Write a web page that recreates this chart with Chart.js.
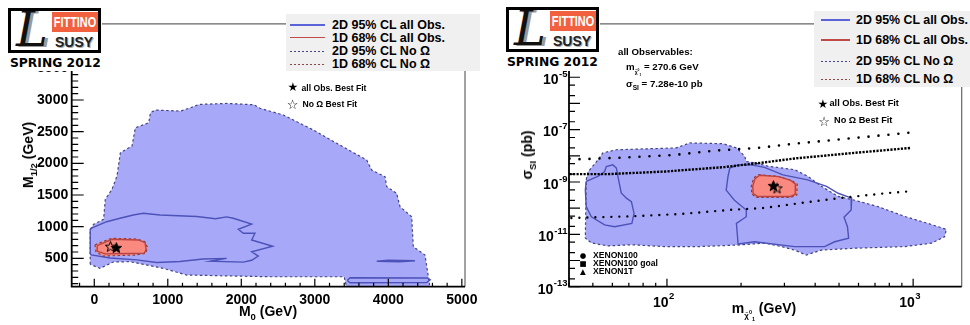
<!DOCTYPE html>
<html>
<head>
<meta charset="utf-8">
<script src="https://cdn.jsdelivr.net/npm/chart.js@4.4.1/dist/chart.umd.min.js"></script>
<style>
  html, body { margin: 0; padding: 0; background: #fff; }
  body { position: relative; width: 970px; height: 325px; overflow: hidden;
         font-family: "Liberation Sans", Arial, Helvetica, sans-serif; font-weight: bold; color: #000; }
  .panel { position: absolute; top: 0; width: 485px; height: 325px; }
  .txt { position: absolute; white-space: nowrap; line-height: 1; transform: translateY(-50%); }
  .ctr { transform: translate(-50%, -50%); }
  .vert { transform: translate(-50%, -50%) rotate(-90deg); }
  .cover { position: absolute; background: #fff; }
  .logo { position: absolute; box-sizing: border-box; width: 93px; height: 45px;
          border: 3px solid #000; background: #fff; overflow: hidden; }
  .logo .bigL { position: absolute; left: 5px; top: -10px; font: italic 48px "DejaVu Serif", serif;
                color: #111; text-shadow: 3px 1px 0 #999; }
  .logo .fit { position: absolute; left: 41px; top: 1px; width: 46px; height: 20px; background: #f2613f; overflow: hidden; }
  .logo .fit span { position: absolute; left: 50%; top: 3px; color: #fff; font: bold 14px "Liberation Sans", sans-serif;
                    line-height: 1; transform: translateX(-50%) scaleX(0.78); }
  .logo .susy { position: absolute; left: 44px; top: 23px; font: bold 14px "Liberation Sans", sans-serif;
                color: #222; text-shadow: 1px 1px 0 #aaa; }
  .spring { position: absolute; font: bold 12.3px "DejaVu Sans", sans-serif; line-height: 1; }
  .legend { position: absolute; background: #f0f0f0; }
  .ls { position: absolute; height: 1.5px; }
  .ld { position: absolute; height: 1px; }
  sub, sup { font-size: 68%; line-height: 0; }
</style>
</head>
<body>
<div class="panel" style="left:0"><canvas id="leftChart" width="485" height="325"></canvas></div>
<div class="panel" style="left:485px"><canvas id="rightChart" width="485" height="325"></canvas></div>

<!-- logos -->
<div class="cover" style="left:0;top:0;width:102px;height:71px"></div>
<div class="logo" style="left:8px;top:8px"><span class="bigL">L</span><div class="fit"><span>FITTINO</span></div><span class="susy">SUSY</span></div>
<div class="spring" style="left:10px;top:57px">SPRING 2012</div>
<div class="cover" style="left:487px;top:0;width:113px;height:71px"></div>
<div class="logo" style="left:506px;top:7px"><span class="bigL">L</span><div class="fit"><span>FITTINO</span></div><span class="susy">SUSY</span></div>
<div class="spring" style="left:507px;top:56px">SPRING 2012</div>

<!-- left legend -->
<div class="legend" style="left:286px;top:14px;width:194px;height:57px"></div>
<div class="ls" style="left:290px;top:24px;width:35px;background:#5a64d8"></div>
<div class="ls" style="left:290px;top:36.5px;width:35px;background:#c04a4a"></div>
<div class="ld" style="left:290px;top:50.5px;width:35px;background:repeating-linear-gradient(90deg,#45458f 0 2px,transparent 2px 4px)"></div>
<div class="ld" style="left:290px;top:63.5px;width:35px;background:repeating-linear-gradient(90deg,#8f4545 0 2px,transparent 2px 4px)"></div>
<div class="txt" style="left:332px;top:25px;font-size:12.5px">2D 95% CL all Obs.</div>
<div class="txt" style="left:332px;top:37.5px;font-size:12.5px">1D 68% CL all Obs.</div>
<div class="txt" style="left:332px;top:51px;font-size:12.5px">2D 95% CL No Ω</div>
<div class="txt" style="left:332px;top:64px;font-size:12.5px">1D 68% CL No Ω</div>

<!-- right legend -->
<div class="legend" style="left:814px;top:11px;width:156px;height:76px"></div>
<div class="ls" style="left:821px;top:19px;width:29px;background:#5a64d8"></div>
<div class="ls" style="left:821px;top:39px;width:29px;background:#c04a4a"></div>
<div class="ld" style="left:821px;top:60.5px;width:29px;background:repeating-linear-gradient(90deg,#45458f 0 2px,transparent 2px 4px)"></div>
<div class="ld" style="left:821px;top:78.5px;width:29px;background:repeating-linear-gradient(90deg,#8f4545 0 2px,transparent 2px 4px)"></div>
<div class="txt" style="left:856px;top:20px;font-size:12.4px">2D 95% CL all Obs.</div>
<div class="txt" style="left:856px;top:40px;font-size:12.4px">1D 68% CL all Obs.</div>
<div class="txt" style="left:856px;top:61px;font-size:12.4px">2D 95% CL No Ω</div>
<div class="txt" style="left:856px;top:79px;font-size:12.4px">1D 68% CL No Ω</div>

<!-- best fit notes -->
<div class="txt ctr" style="left:293px;top:87px;font:12px 'DejaVu Sans'">★</div>
<div class="txt" style="left:301.5px;top:87.5px;font-size:8.6px">all Obs. Best Fit</div>
<div class="txt ctr" style="left:292.5px;top:104px;font:13px 'DejaVu Sans'">☆</div>
<div class="txt" style="left:302.5px;top:104px;font-size:8.6px">No Ω Best Fit</div>

<div class="txt ctr" style="left:823px;top:104px;font:12px 'DejaVu Sans'">★</div>
<div class="txt" style="left:829.5px;top:104px;font-size:9.2px">all Obs. Best Fit</div>
<div class="txt ctr" style="left:824px;top:120.5px;font:13px 'DejaVu Sans'">☆</div>
<div class="txt" style="left:834px;top:120.5px;font-size:9.2px">No Ω Best Fit</div>

<div class="txt" style="left:618px;top:51.5px;font-size:9.7px">all Observables:</div>
<div class="txt" style="left:626px;top:66.5px;font-size:9.7px">m<span style="font-size:5px;position:relative;top:4px">χ̃<sup>0</sup><sub>1</sub></span> = 270.6 GeV</div>
<div class="txt" style="left:626px;top:84px;font-size:9.7px">σ<sub>SI</sub> = 7.28e-10 pb</div>

<!-- XENON key -->
<div class="txt ctr" style="left:583px;top:254.5px;font:7.5px 'DejaVu Sans'">●</div>
<div class="txt ctr" style="left:583px;top:262.5px;font:7.5px 'DejaVu Sans'">■</div>
<div class="txt ctr" style="left:583px;top:270.5px;font:7.5px 'DejaVu Sans'">▲</div>
<div class="txt" style="left:593px;top:254.5px;font-size:8.6px">XENON100</div>
<div class="txt" style="left:593px;top:262.5px;font-size:8.6px">XENON100 goal</div>
<div class="txt" style="left:593px;top:270.5px;font-size:8.6px">XENON1T</div>

<!-- axis titles -->
<div class="txt ctr" style="left:268px;top:311px;font-size:14px">M<sub>0</sub> (GeV)</div>
<div class="txt vert" style="left:28px;top:155px;font-size:14px">M<sub>1/2</sub> (GeV)</div>
<div class="txt ctr" style="left:764px;top:308px;font-size:14px">m<span style="font-size:8px;position:relative;top:5px">χ̃<sup>0</sup><sub>1</sub></span> (GeV)</div>
<div class="txt vert" style="left:527px;top:155px;font-size:14px">σ<sub>SI</sub> (pb)</div>

<script>
// ---------- left panel: CMSSM plane (M0, M1/2) in GeV ----------
const leftXTicks = [0, 1000, 2000, 3000, 4000, 5000];
const leftYTicks = [500, 1000, 1500, 2000, 2500, 3000, 3500];

// 2D 95% CL No Omega (filled, dashed edge)
const noOmega95M0  = [-55, -55, -9, 127, 150, 241, 309, 355, 514, 559, 741, 764, 832, 1173, 1309, 1423, 1809, 2173, 2254, 2572, 2980, 3298, 3706, 3774, 3955, 3978, 4114, 4159, 4318, 4340, 4499, 4544, 4560, 4560, 3440, 3400, 2390, 1257, 939, 486, 259, 78];
const noOmega95M12 = [405, 958, 1037, 1115, 1431, 1589, 1799, 2167, 2273, 2562, 2641, 2799, 2841, 2825, 2878, 2930, 2946, 2925, 2869, 2763, 2526, 2316, 2052, 1894, 1789, 1631, 1526, 1315, 1157, 683, 552, 209, 105, 0, 0, 209, 209, 236, 342, 447, 442, 342];

// 2D 95% CL all Obs. (solid line contours)
const allObs95M0  = [-55, -55, -14, 169, 350, 531, 667, 894, 1393, 1650, 1800, 1891, 2141, 1959, 2027, 2186, 2141, 2427, 2141, 2231, 2140, 2030, 1580, 1800, 1480, 1166, 849, 577, 215, -40];
const allObs95M12 = [570, 958, 990, 1078, 1132, 1184, 1211, 1184, 1160, 1125, 1155, 1132, 1040, 958, 895, 895, 789, 690, 604, 536, 470, 440, 455, 500, 490, 450, 435, 475, 505, 555];
const allObs95LensM0  = [3842, 4000, 4363, 4150];
const allObs95LensM12 = [455, 472, 462, 445];
const allObs95LowM0  = [3440, 3480, 4530, 4570, 4520, 3480];
const allObs95LowM12 = [150, 194, 190, 160, 118, 115];

// 1D 68% CL No Omega (filled) and all Obs. (solid line)
const noOmega68M0  = [10, 60, 237, 577, 690, 721, 703, 554, 122, 23];
const noOmega68M12 = [710, 740, 816, 805, 762, 683, 579, 552, 536, 604];
const allObs68M0  = [40, 240, 600, 690, 705, 680, 150, 50];
const allObs68M12 = [700, 800, 790, 750, 640, 580, 570, 610];

const leftBestAll = [300, 670];
const leftBestNoOmega = [220, 690];

// ---------- right panel: (m_chi, sigma_SI) in GeV, pb ----------
const rightXPowers = [2, 3];
const rightYPowers = [-13, -11, -9, -7, -5];

const noOmegaMass  = [47.0, 47.8, 52.4, 54.9, 62.3, 109, 124, 169, 192, 207, 210, 227, 258, 330, 373, 424, 496, 580, 720, 925, 1151, 1364, 1342, 1188, 925, 580, 424, 368, 330, 292, 249, 194, 134, 98, 72, 57.6, 49.3, 46.6];
const noOmegaSigma = [1.23e-9, 2.45e-9, 6.9e-9, 1.29e-8, 1.7e-8, 2.0e-8, 3.1e-8, 2.9e-8, 2.0e-8, 9.5e-9, 6.0e-9, 5.4e-9, 4.0e-9, 2.95e-9, 1.66e-9, 6.8e-10, 2.8e-10, 2.0e-10, 1.15e-10, 4.8e-11, 2.6e-11, 1.55e-11, 8.1e-12, 4.6e-12, 3.4e-12, 2.95e-12, 2.5e-12, 1.62e-12, 2.5e-12, 3.4e-12, 4.6e-12, 3.9e-12, 3.4e-12, 3.4e-12, 4.0e-12, 3.6e-12, 4.7e-12, 7.2e-12];

const allObsLowMass  = [47.0, 52.4, 55.8, 56.7, 60.3, 62.3, 63.2, 65.2, 68.4, 71.7, 73.5, 72, 61.3, 55.8, 49.3, 47.0, 46.6];
const allObsLowSigma = [1.05e-9, 1.62e-9, 2.5e-9, 3.9e-9, 4.5e-9, 3.4e-9, 1.62e-9, 3.8e-10, 2.4e-10, 1.78e-10, 6.3e-11, 2.6e-11, 1.95e-11, 2.3e-11, 4.7e-11, 1.15e-10, 4.9e-10];
const allObsMidMass  = [194.5, 220, 249, 296, 373, 445, 496, 563, 560, 524, 541, 547, 480, 437, 330, 227, 194.5, 191.5, 210, 210, 188, 174, 177, 180];
const allObsMidSigma = [4.5e-9, 4.5e-9, 3.6e-9, 1.86e-9, 1.2e-9, 6.8e-10, 3.7e-10, 2.4e-10, 8.5e-11, 4.5e-11, 1.95e-11, 7.1e-12, 5.2e-12, 3.4e-12, 3.4e-12, 5.2e-12, 4.3e-12, 2.6e-11, 4.7e-11, 8.5e-11, 2.0e-10, 4.9e-10, 1.62e-9, 3.4e-9];

const red68Mass  = [235, 280, 320, 338, 337, 320, 230, 221, 220, 225];
const red68Sigma = [1.9e-9, 1.66e-9, 1.17e-9, 8.3e-10, 3.2e-10, 2.6e-10, 2.6e-10, 3.5e-10, 6.8e-10, 1.41e-9];
const line68Mass  = [238, 285, 318, 333, 332, 318, 233, 224, 223, 228];
const line68Sigma = [1.8e-9, 1.6e-9, 1.15e-9, 8.3e-10, 3.4e-10, 2.8e-10, 2.8e-10, 3.6e-10, 6.8e-10, 1.35e-9];

const xe100Mass  = [40.2, 44.9, 57.6, 78.7, 107.5, 156, 234, 330, 512, 741, 1000];
const xe100Sigma = [7.8e-9, 7.4e-9, 8.1e-9, 9.2e-9, 1.08e-8, 1.57e-8, 2.0e-8, 2.9e-8, 4.3e-8, 6.0e-8, 7.9e-8];
const xeGoalMass  = [40.2, 57.6, 97.9, 171, 249, 330, 580, 980];
const xeGoalSigma = [2.0e-9, 2.0e-9, 2.5e-9, 3.7e-9, 5.6e-9, 7.9e-9, 1.3e-8, 2.0e-8];
const xe1TMass  = [40.9, 52.4, 71.7, 114, 183, 249, 310, 496, 792, 1000];
const xe1TSigma = [4.2e-11, 4.5e-11, 4.9e-11, 6.0e-11, 8.7e-11, 1.02e-10, 1.35e-10, 2.4e-10, 3.8e-10, 4.5e-10];

const rightBestAll = [270.6, 7.28e-10];
const rightBestNoOmega = [280, 5.9e-10];

// ---------- styles ----------
const BLUE_FILL = "#a7a9f8";
const BLUE_DASH = "#44447e";
const BLUE_LINE = "#4d52b8";
const RED_FILL = "#fa8a80";
const RED_DASH = "#8a3a3a";
const RED_LINE = "#b84444";

Chart.defaults.font.family = "'Liberation Sans', Arial, sans-serif";
Chart.defaults.color = "#000";

function pts(xs, ys) {
  return xs.map((x, i) => ({ x, y: ys[i] }));
}

function closed(xs, ys) {
  const p = pts(xs, ys);
  p.push(p[0]);
  return p;
}

function makeStar(size, filled) {
  const c = document.createElement("canvas");
  c.width = size;
  c.height = size;
  const g = c.getContext("2d");
  const r = size / 2 - 1, ri = r * 0.42, cx = size / 2, cy = size / 2 + 0.6;
  g.beginPath();
  for (let i = 0; i < 10; i++) {
    const rad = i % 2 ? ri : r;
    const a = -Math.PI / 2 + i * Math.PI / 5;
    g.lineTo(cx + rad * Math.cos(a), cy + rad * Math.sin(a));
  }
  g.closePath();
  if (filled) {
    g.fillStyle = "#000";
    g.fill();
  }
  g.strokeStyle = "#000";
  g.lineWidth = 1;
  g.stroke();
  return c;
}

const fullStar = makeStar(13, true);
const openStar = makeStar(13, false);

function region(data, fillColor, edgeColor, order) {
  return {
    data, order, fill: "shape", backgroundColor: fillColor,
    borderColor: edgeColor, borderWidth: 1.2, borderDash: [2.5, 2.5]
  };
}

function contour(data, color, order) {
  return { data, order, fill: false, borderColor: color, borderWidth: 1.4 };
}

function marker(xy, img, order) {
  return { data: [{ x: xy[0], y: xy[1] }], order, showLine: false, pointStyle: img, pointRadius: 6 };
}

function dotted(data, dash, width, cap) {
  return { data, order: 4, fill: false, borderColor: "#000", borderWidth: width, borderDash: dash, borderCapStyle: cap };
}

// ticks and frame drawn ROOT-like, from the chart's own scales
function rootAxes(cfg) {
  return {
    id: "rootAxes",
    afterDraw(chart) {
      const { ctx, chartArea: a } = chart;
      const xs = chart.scales.x, ys = chart.scales.y;
      ctx.save();
      ctx.strokeStyle = "#666";
      ctx.lineWidth = 1.2;
      ctx.beginPath();
      ctx.moveTo(a.left, a.top + 0.5);
      ctx.lineTo(a.right, a.top + 0.5);
      ctx.lineTo(a.right, a.bottom);
      ctx.stroke();

      ctx.strokeStyle = "#000";
      ctx.lineWidth = 1.8;
      ctx.beginPath();
      ctx.moveTo(a.left, a.top);
      ctx.lineTo(a.left, a.bottom);
      ctx.lineTo(a.right, a.bottom);
      ctx.stroke();

      ctx.lineWidth = 1.2;
      ctx.beginPath();
      cfg.xTicks.forEach(t => {
        const p = xs.getPixelForValue(t[0]);
        if (p < a.left || p > a.right) return;
        ctx.moveTo(p, a.bottom);
        ctx.lineTo(p, a.bottom - t[1]);
      });
      cfg.yTicks.forEach(t => {
        const p = ys.getPixelForValue(t[0]);
        if (p < a.top || p > a.bottom) return;
        ctx.moveTo(a.left, p);
        ctx.lineTo(a.left + t[1], p);
      });
      ctx.stroke();

      if (cfg.xPow) {
        cfg.xPow.forEach(e => drawPow(ctx, xs.getPixelForValue(Math.pow(10, e)) - 3.5, a.bottom + 16, e, "center"));
        cfg.yPow.forEach(e => drawPow(ctx, a.left - 2, ys.getPixelForValue(Math.pow(10, e)) + 3, e, "right"));
      }
      ctx.restore();
    }
  };
}

function drawPow(ctx, x, y, e, align) {
  const big = "bold 14px 'Liberation Sans'";
  const small = "bold 9.5px 'Liberation Sans'";
  const exp = String(e);
  ctx.font = big;
  const w1 = ctx.measureText("10").width;
  ctx.font = small;
  const w2 = ctx.measureText(exp).width;
  const x0 = align === "right" ? x - w1 - w2 : x - (w1 + w2) / 2;
  ctx.fillStyle = "#000";
  ctx.textAlign = "left";
  ctx.textBaseline = "middle";
  ctx.font = big;
  ctx.fillText("10", x0, y);
  ctx.font = small;
  ctx.fillText(exp, x0 + w1 + 0.5, y - 6);
}

const tickFont = { family: "'Liberation Sans'", size: 14, weight: "bold" };
const plainNumber = v => String(v);
const baseOptions = {
  responsive: false,
  animation: false,
  events: [],
  elements: { point: { radius: 0 }, line: { tension: 0 } },
  plugins: { legend: { display: false }, tooltip: { enabled: false } }
};

// left ticks: minor every 200 / 100, major every 1000 / 500
const leftXTickMarks = [];
for (let v = -200; v <= 5000; v += 200) leftXTickMarks.push([v, v % 1000 === 0 ? 8 : 4]);
const leftYTickMarks = [];
for (let v = 100; v <= 4200; v += 100) leftYTickMarks.push([v, v % 500 === 0 ? 12 : 6.5]);

new Chart(document.getElementById("leftChart"), {
  type: "line",
  data: {
    datasets: [
      region(closed(noOmega95M0, noOmega95M12), BLUE_FILL, BLUE_DASH, 10),
      contour(closed(allObs95M0, allObs95M12), BLUE_LINE, 8),
      contour(closed(allObs95LensM0, allObs95LensM12), BLUE_LINE, 8),
      contour(closed(allObs95LowM0, allObs95LowM12), BLUE_LINE, 8),
      region(closed(noOmega68M0, noOmega68M12), RED_FILL, RED_DASH, 6),
      contour(closed(allObs68M0, allObs68M12), RED_LINE, 5),
      marker(leftBestNoOmega, openStar, 2),
      marker(leftBestAll, fullStar, 1)
    ]
  },
  options: {
    ...baseOptions,
    layout: { padding: { left: 0, right: 20, top: 23.3, bottom: 0 } },
    scales: {
      x: {
        type: "linear", min: -307, max: 5043,
        grid: { display: false, drawTicks: false }, border: { display: false },
        ticks: { font: tickFont, color: "#000", padding: 5, autoSkip: false, maxRotation: 0, callback: plainNumber },
        afterBuildTicks: s => { s.ticks = leftXTicks.map(v => ({ value: v })); },
        afterFit: s => { s.height = 38.3; }
      },
      y: {
        type: "linear", min: 52, max: 4211,
        grid: { display: false, drawTicks: false }, border: { display: false },
        ticks: { font: tickFont, color: "#000", padding: 3.5, autoSkip: false, callback: plainNumber },
        afterBuildTicks: s => { s.ticks = leftYTicks.map(v => ({ value: v })); },
        afterFit: s => { s.width = 71.7; }
      }
    }
  },
  plugins: [rootAxes({ xTicks: leftXTickMarks, yTicks: leftYTickMarks })]
});

// right ticks: log decades, 2 and 5 subdivisions on y
const rightXTickMarks = [];
[10, 100, 1000].forEach(d => {
  for (let k = 1; k <= 9; k++) rightXTickMarks.push([d * k, k === 1 ? 8 : 4]);
});
const rightYTickMarks = [];
for (let e = -13; e <= -3; e++) {
  [1, 2, 5].forEach(k => rightYTickMarks.push([k * Math.pow(10, e), k === 1 ? 11 : 6]));
}

new Chart(document.getElementById("rightChart"), {
  type: "line",
  data: {
    datasets: [
      region(closed(noOmegaMass, noOmegaSigma), BLUE_FILL, BLUE_DASH, 10),
      contour(closed(allObsLowMass, allObsLowSigma), BLUE_LINE, 8),
      contour(closed(allObsMidMass, allObsMidSigma), BLUE_LINE, 8),
      region(closed(red68Mass, red68Sigma), RED_FILL, RED_DASH, 6),
      contour(closed(line68Mass, line68Sigma), RED_LINE, 5),
      dotted(pts(xe100Mass, xe100Sigma), [0, 10], 2.6, "round"),
      dotted(pts(xeGoalMass, xeGoalSigma), [2.2, 1.3], 2.4, "butt"),
      dotted(pts(xe1TMass, xe1TSigma), [0, 8], 2.4, "round"),
      marker(rightBestNoOmega, openStar, 2),
      marker(rightBestAll, fullStar, 1)
    ]
  },
  options: {
    ...baseOptions,
    layout: { padding: { left: 0, right: 8.3, top: 23.3, bottom: 0 } },
    scales: {
      x: {
        type: "logarithmic", min: 40, max: 1575,
        grid: { display: false, drawTicks: false }, border: { display: false },
        ticks: { display: false },
        afterFit: s => { s.height = 38.3; }
      },
      y: {
        type: "logarithmic", min: 1e-13, max: 1.15e-3,
        grid: { display: false, drawTicks: false }, border: { display: false },
        ticks: { display: false },
        afterFit: s => { s.width = 84; }
      }
    }
  },
  plugins: [rootAxes({ xTicks: rightXTickMarks, yTicks: rightYTickMarks, xPow: rightXPowers, yPow: rightYPowers })]
});
</script>
</body>
</html>
